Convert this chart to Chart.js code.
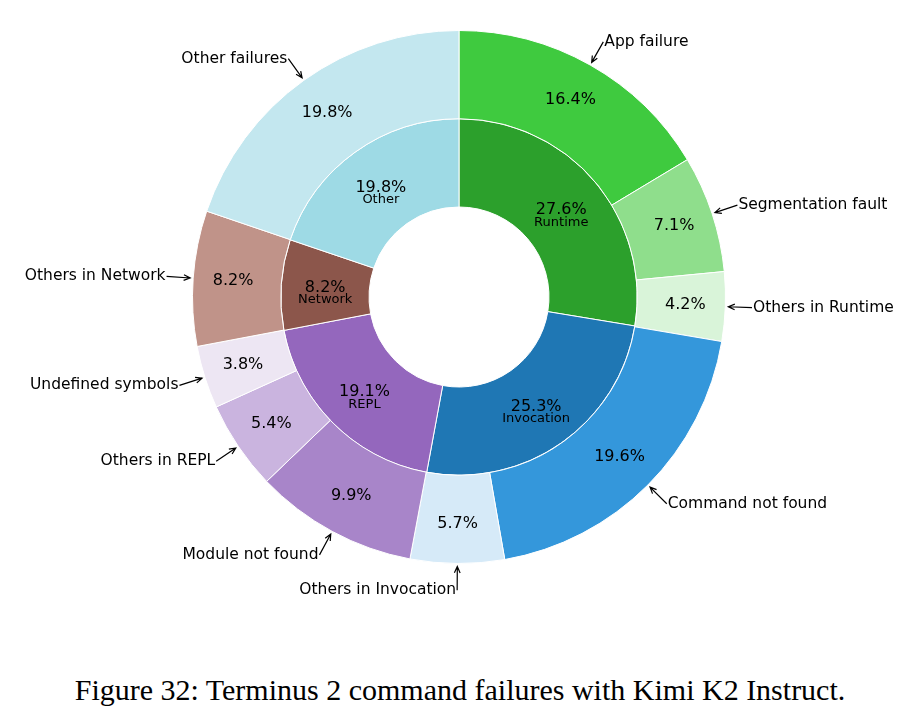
<!DOCTYPE html>
<html>
<head>
<meta charset="utf-8">
<script src="https://cdn.jsdelivr.net/npm/chart.js@4"></script>
<style>
  body { margin: 0; background: #fff; width: 920px; height: 726px; position: relative; overflow: hidden; }
  #wrap { position: absolute; left: 0; top: 0; width: 920px; height: 600px; }
  #caption { position: absolute; left: 0; top: 671px; width: 920px; text-align: center;
    font-family: "Liberation Serif", "DejaVu Serif", serif; font-size: 30px; color: #000; line-height: 38px; }
</style>
</head>
<body>
<div id="wrap"><canvas id="donut" width="920" height="600"></canvas></div>
<div id="caption">Figure 32: Terminus 2 command failures with Kimi K2 Instruct.</div>
<script>
const groups = ["Runtime", "Invocation", "REPL", "Network", "Other"];
const groupPct = [27.6, 25.3, 19.1, 8.2, 19.8];
const groupColors = ["#2ca02c", "#1f77b4", "#9467bd", "#8c564b", "#9edae5"];

const causes = [
  "App failure", "Segmentation fault", "Others in Runtime",
  "Command not found", "Others in Invocation",
  "Module not found", "Others in REPL", "Undefined symbols",
  "Others in Network",
  "Other failures",
];
const causePct = [16.4, 7.1, 4.2, 19.6, 5.7, 9.9, 5.4, 3.8, 8.2, 19.8];
const causeColors = [
  "#3fca3f", "#8fde8c", "#d9f4d9",
  "#3497db", "#d6eaf8",
  "#a885c9", "#cab4df", "#ede6f3",
  "#c09389",
  "#c3e7ef",
];

// labels, percentages and arrows drawn on top of the arcs
const ringLabels = {
  id: "ringLabels",
  afterDatasetsDraw(chart) {
    const ctx = chart.ctx;
    ctx.save();
    ctx.fillStyle = "#000";
    ctx.strokeStyle = "#000";
    ctx.textBaseline = "middle";

    // outer ring
    const outer = chart.getDatasetMeta(0).data;
    outer.forEach((arc, i) => {
      const a = (arc.startAngle + arc.endAngle) / 2;
      const R = arc.outerRadius;
      const c = Math.cos(a), s = Math.sin(a);
      ctx.font = "16px 'DejaVu Sans'";
      ctx.textAlign = "center";
      ctx.fillText(causePct[i].toFixed(1) + "%", arc.x + 0.85 * R * c, arc.y + 0.85 * R * s);

      // arrow from label to the rim
      const tx = arc.x + 1.1 * R * c, ty = arc.y + 1.1 * R * s;
      const hx = arc.x + (R + 3) * c, hy = arc.y + (R + 3) * s;
      ctx.lineWidth = 1.2;
      ctx.beginPath();
      ctx.moveTo(tx, ty);
      ctx.lineTo(hx, hy);
      const ang = Math.atan2(hy - ty, hx - tx);
      ctx.moveTo(hx - 7 * Math.cos(ang - 0.42), hy - 7 * Math.sin(ang - 0.42));
      ctx.lineTo(hx, hy);
      ctx.lineTo(hx - 7 * Math.cos(ang + 0.42), hy - 7 * Math.sin(ang + 0.42));
      ctx.stroke();

      ctx.font = "15.5px 'DejaVu Sans'";
      ctx.textAlign = c >= 0 ? "left" : "right";
      ctx.fillText(causes[i], tx + (c >= 0 ? 1 : -1), ty);
    });

    // inner ring
    const inner = chart.getDatasetMeta(1).data;
    inner.forEach((arc, i) => {
      const a = (arc.startAngle + arc.endAngle) / 2;
      const r = (arc.innerRadius + arc.outerRadius) / 2;
      const x = arc.x + r * Math.cos(a), y = arc.y + r * Math.sin(a);
      ctx.textAlign = "center";
      ctx.font = "16px 'DejaVu Sans'";
      ctx.fillText(groupPct[i].toFixed(1) + "%", x, y);
      ctx.font = "13px 'DejaVu Sans'";
      ctx.fillText(groups[i], x, y + 12);
    });
    ctx.restore();
  },
};

new Chart(document.getElementById("donut"), {
  type: "doughnut",
  data: {
    labels: causes,
    datasets: [
      {
        label: "cause",
        data: causePct,
        backgroundColor: causeColors,
        borderColor: "#ffffff",
        borderWidth: 1,
      },
      {
        label: "group",
        data: groupPct,
        backgroundColor: groupColors,
        borderColor: "#ffffff",
        borderWidth: 1,
      },
    ],
  },
  options: {
    responsive: false,
    animation: false,
    cutout: 90,
    layout: { padding: { top: 30, bottom: 36, left: 0, right: 2 } },
    plugins: {
      legend: { display: false },
      tooltip: { enabled: false },
    },
  },
  plugins: [ringLabels],
});
</script>
</body>
</html>
